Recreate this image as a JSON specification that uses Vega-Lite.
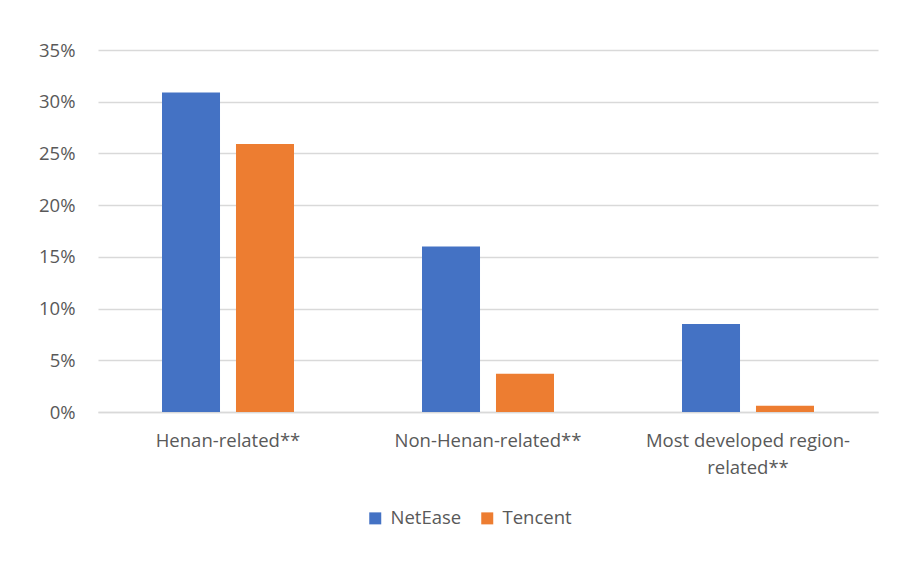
{
  "$schema": "https://vega.github.io/schema/vega-lite/v6.json",
  "width": 780,
  "height": 362,
  "autosize": {"type": "none"},
  "padding": {"left": 98, "top": 50, "right": 31, "bottom": 149},
  "background": "white",
  "data": {
    "values": [
      {"category": "Henan-related**", "platform": "NetEase", "share": 0.309},
      {"category": "Henan-related**", "platform": "Tencent", "share": 0.259},
      {"category": "Non-Henan-related**", "platform": "NetEase", "share": 0.160},
      {"category": "Non-Henan-related**", "platform": "Tencent", "share": 0.037},
      {"category": "Most developed region-related**", "platform": "NetEase", "share": 0.085},
      {"category": "Most developed region-related**", "platform": "Tencent", "share": 0.006}
    ]
  },
  "mark": {"type": "bar"},
  "encoding": {
    "x": {
      "field": "category",
      "type": "nominal",
      "sort": null,
      "scale": {"paddingInner": 0, "paddingOuter": 0},
      "axis": {
        "title": null,
        "labelAngle": 0,
        "domain": true,
        "domainColor": "#D9D9D9",
        "domainWidth": 1.7,
        "ticks": false,
        "tickSize": 0,
        "labelPadding": 19,
        "labelFont": "Open Sans",
        "labelFontSize": 18.5,
        "labelColor": "#595959",
        "labelLineHeight": 27,
        "labelLimit": 400,
        "labelExpr": "datum.label == 'Most developed region-related**' ? ['Most developed region-', 'related**'] : datum.label"
      }
    },
    "xOffset": {
      "field": "platform",
      "type": "nominal",
      "scale": {"paddingInner": 0.216, "paddingOuter": 0.865}
    },
    "y": {
      "field": "share",
      "type": "quantitative",
      "scale": {"domain": [0, 0.35]},
      "axis": {
        "title": null,
        "format": ".0%",
        "values": [0, 0.05, 0.1, 0.15, 0.2, 0.25, 0.3, 0.35],
        "domain": false,
        "ticks": false,
        "tickSize": 0,
        "labelPadding": 23,
        "labelFont": "Open Sans",
        "labelFontSize": 18.5,
        "labelColor": "#595959",
        "grid": true,
        "gridColor": "#D9D9D9",
        "gridWidth": 1.7
      }
    },
    "color": {
      "field": "platform",
      "type": "nominal",
      "scale": {"domain": ["NetEase", "Tencent"], "range": ["#4472C4", "#ED7D31"]},
      "legend": {
        "title": null,
        "orient": "none",
        "direction": "horizontal",
        "legendX": 268,
        "legendY": 459,
        "symbolType": "square",
        "symbolSize": 144,
        "symbolStrokeWidth": 0,
        "labelFont": "Open Sans",
        "labelFontSize": 18.5,
        "labelColor": "#595959",
        "labelOffset": 6,
        "columnPadding": 16
      }
    }
  },
  "config": {
    "view": {"stroke": null}
  }
}
